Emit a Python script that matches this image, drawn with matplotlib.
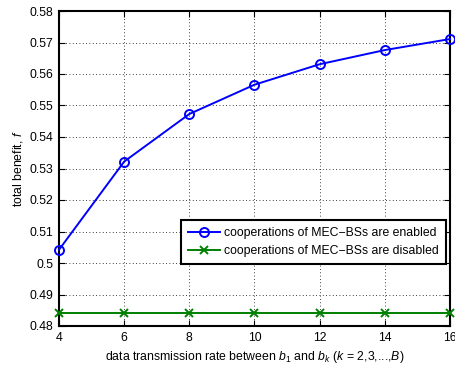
import matplotlib
matplotlib.use("Agg")
import matplotlib.pyplot as plt

rates = [4, 6, 8, 10, 12, 14, 16]
enabled = [0.5042, 0.5322, 0.5473, 0.5566, 0.5631, 0.5676, 0.5711]
disabled = [0.484, 0.484, 0.484, 0.484, 0.484, 0.484, 0.484]
xticks = [4, 6, 8, 10, 12, 14, 16]
yticks = [0.48, 0.49, 0.5, 0.51, 0.52, 0.53, 0.54, 0.55, 0.56, 0.57, 0.58]
ytick_labels = ["0.48", "0.49", "0.5", "0.51", "0.52", "0.53", "0.54", "0.55", "0.56", "0.57", "0.58"]
labels = ["cooperations of MEC\u2212BSs are enabled", "cooperations of MEC\u2212BSs are disabled"]

plt.rcParams['font.family'] = ['Liberation Sans', 'DejaVu Sans']
plt.rcParams['mathtext.fontset'] = 'custom'
plt.rcParams['mathtext.it'] = 'Liberation Sans:italic'
plt.rcParams['mathtext.rm'] = 'Liberation Sans'

fs = 8.8
fig = plt.figure(figsize=(4.56, 3.67), dpi=100)
ax = fig.add_axes([59/456, 1-326/367, (450-59)/456, (326-11)/367])

ax.plot(rates, enabled, color='#0000ff', marker='o', markersize=6.5, markerfacecolor='none',
        markeredgewidth=1.4, linewidth=1.4, label=labels[0], clip_on=False, zorder=3)
ax.plot(rates, disabled, color='#008000', marker='x', markersize=5.5, markeredgewidth=1.4,
        linewidth=1.4, label=labels[1], clip_on=False, zorder=3)

ax.set_xlim(4, 16)
ax.set_ylim(0.48, 0.58)
ax.set_xticks(xticks)
ax.set_yticks(yticks)
ax.set_yticklabels(ytick_labels)
ax.grid(True, linestyle=(0, (1, 3)), color='black', linewidth=0.6)
ax.tick_params(direction='in', top=True, right=True, labelsize=fs, length=4, width=0.8, pad=4)
for s in ax.spines.values():
    s.set_linewidth(1.5)

ax.set_xlabel(r"data transmission rate between $b_1$ and $b_k$ ($k$ = 2,3,...,$B$)", fontsize=fs, labelpad=4)
ax.set_ylabel(r"total benefit, $f$", fontsize=fs, labelpad=3)

leg = ax.legend(loc='upper right', bbox_to_anchor=(446/456, 1-220/367), bbox_transform=fig.transFigure,
                fontsize=fs, fancybox=False, edgecolor='black', framealpha=1,
                borderpad=0.6, handlelength=2.6, labelspacing=0.45, handletextpad=0.3, borderaxespad=0)
leg.get_frame().set_linewidth(1.5)

fig.savefig("out.png", dpi=100)
